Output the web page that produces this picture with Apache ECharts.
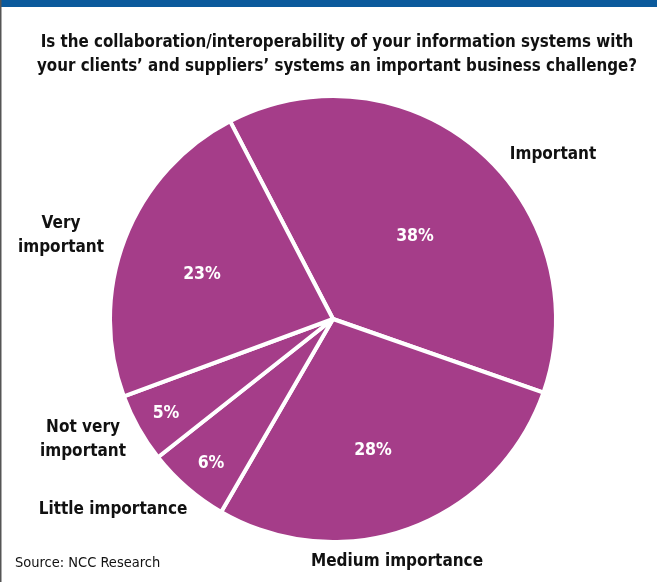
<!DOCTYPE html>
<html>
<head>
<meta charset="utf-8">
<script src="https://cdn.jsdelivr.net/npm/echarts@6/dist/echarts.min.js"></script>
<style>
html,body{margin:0;padding:0;background:#fff;}
#chart{width:657px;height:582px;}
</style>
</head>
<body>
<div id="chart"></div>
<script>
const titleText = "Is the collaboration/interoperability of your information systems with\nyour clients\u2019 and suppliers\u2019 systems an important business challenge?";
const sourceText = "Source: NCC Research";
const categories = ["Important", "Medium importance", "Little importance", "Not very\nimportant", "Very\nimportant"];
const values = [38, 28, 6, 5, 23];

const FONT = "'DejaVu Sans Condensed', 'Liberation Sans Narrow', 'Arial Narrow', sans-serif";
const CENTER = [333, 319];
const RADIUS = 223;
// label positions (layout only)
const pctPos = [[415, 236], [373, 450], [211, 463], [166, 413], [202, 274]];
const namePos = [[553, 155], [397, 562], [113, 510], [83, 440], [61, 236]];

const chart = echarts.init(document.getElementById('chart'), null, {renderer: 'canvas'});
const data = categories.map((c, i) => ({name: c, value: values[i]}));

chart.setOption({
  animation: false,
  backgroundColor: '#ffffff',
  title: {
    text: titleText,
    left: 332, top: 26, textAlign: 'center',
    textStyle: {fontFamily: FONT, fontWeight: 'bold', fontSize: 16.8, lineHeight: 24, color: '#111'}
  },
  graphic: [
    {type: 'rect', shape: {x: 0, y: 0, width: 657, height: 7}, style: {fill: '#0B5A9C'}},
    {type: 'rect', shape: {x: 0, y: 0, width: 1.5, height: 582}, style: {fill: '#555'}},
    {type: 'text', left: 15, top: 556, style: {text: sourceText, font: "14.5px " + FONT, fill: '#111'}}
  ],
  series: [
    {
      type: 'pie',
      center: CENTER,
      radius: RADIUS,
      startAngle: 117.5,
      clockwise: true,
      silent: true,
      data: data,
      itemStyle: {color: '#A53D89', borderColor: '#ffffff', borderWidth: 4},
      label: {
        show: true, position: 'inside',
        formatter: p => p.value + '%',
        color: '#ffffff', fontFamily: FONT, fontWeight: 'bold', fontSize: 17.5
      },
      labelLine: {show: false},
      labelLayout: p => ({x: pctPos[p.dataIndex][0], y: pctPos[p.dataIndex][1], align: 'center', verticalAlign: 'middle'})
    },
    {
      type: 'pie',
      center: CENTER,
      radius: RADIUS,
      startAngle: 117.5,
      clockwise: true,
      silent: true,
      z: 1,
      data: data,
      itemStyle: {color: 'rgba(0,0,0,0)', borderWidth: 0},
      label: {
        show: true, position: 'inside', overflow: 'none',
        formatter: '{b}',
        color: '#111', fontFamily: FONT, fontWeight: 'bold', fontSize: 17, lineHeight: 24, align: 'center'
      },
      labelLine: {show: false},
      labelLayout: p => ({x: namePos[p.dataIndex][0], y: namePos[p.dataIndex][1], align: 'center', verticalAlign: 'middle'})
    }
  ]
});
</script>
</body>
</html>
